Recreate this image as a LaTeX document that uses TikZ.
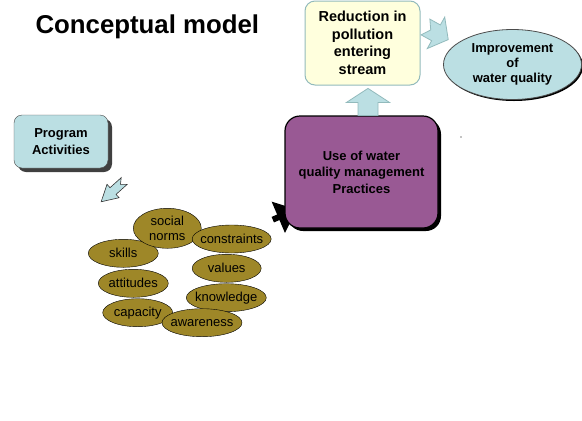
\documentclass[tikz,border=0pt]{standalone}
\usepackage{fontspec}
\setmainfont{Liberation Sans}
\usepackage{tikz}
\usetikzlibrary{shapes.geometric, shadows, calc}

\definecolor{paleblue}{RGB}{187,223,227}
\definecolor{oliveyellow}{RGB}{158,135,40}
\definecolor{plum}{RGB}{153,89,148}
\definecolor{cream}{RGB}{255,255,221}
\definecolor{tealgray}{RGB}{146,186,188}

\begin{document}
\begin{tikzpicture}[x=1pt, y=-1pt]
	\tikzstyle{box}=[rectangle, align=center,
		font=\bfseries\fontsize{13}{16.5}\selectfont]
	\tikzstyle{trait}=[ellipse, draw=black, fill=oliveyellow, inner xsep=-25pt,
		inner ysep=0pt, minimum width=70pt, minimum height=28pt, align=center,
		font=\fontsize{13}{15}\selectfont]
	\tikzstyle{blockarrow}=[fill=paleblue, draw=tealgray, line width=0.8pt]

	\useasboundingbox (0,0) rectangle (582,421);

	\node[anchor=base west, font=\bfseries\fontsize{25.8}{30}\selectfont] (title)
		at (32,33) {Conceptual model};

	\node[box, draw=black!70, fill=paleblue, rounded corners=8pt,
		minimum width=94pt, minimum height=53pt,
		drop shadow={shadow xshift=4pt, shadow yshift=-4pt, fill=black!75,
		opacity=1}] (prog) at (61,141.5) {Program\\Activities};

	% things the program acts on
	\node[trait] (skills) at (123.3,253.3) {skills};
	\node[trait, minimum width=68pt, minimum height=40pt] (norms)
		at (167.3,228.3) {social\\norms};
	\node[trait, minimum width=79pt] (constraints) at (231.7,239) {constraints};
	\node[trait, minimum width=69pt] (values) at (226.7,268.3) {values};
	\node[trait] (attitudes) at (133.3,283.3) {attitudes};
	\node[trait, minimum width=80pt] (knowledge) at (226.3,297.7) {knowledge};
	\node[trait] (capacity) at (137.7,312.7) {capacity};
	\node[trait, minimum width=80pt] (awareness) at (202,322.7) {awareness};

	\coordinate (tailA) at ($(prog.east)+(16,39.5)$);
	\begin{scope}[shift={(tailA)}, rotate=222]
		\draw[fill=paleblue, draw=black!80, line width=0.6pt]
		(0,4.5) -- (15,4.5) -- (15,9) -- (31,0) -- (15,-9) -- (15,-4.5) --
		(0,-4.5) -- (5,0) -- cycle;
	\end{scope}

	\coordinate (headC) at (278.3,217.3);
	\begin{scope}[shift={(headC)}, rotate=23]
		\fill[black] (20,0) -- (0,17) -- (0,3) -- (-6,3) -- (-6,-3) -- (0,-3) --
		(0,-17) -- cycle;
	\end{scope}

	\node[box, draw=black, line width=1.2pt, fill=plum, rounded corners=15pt,
		minimum width=153pt, minimum height=112pt,
		drop shadow={shadow xshift=3pt, shadow yshift=-3pt, fill=black,
		opacity=1}] (use) at (361.5,172)
		{Use of water\\quality management\\Practices};

	\node[box, draw=tealgray, line width=1pt, fill=cream, rounded corners=10pt,
		minimum width=115pt, minimum height=84pt,
		font=\bfseries\fontsize{14.5}{17.5}\selectfont] (reduce) at (362.5,43)
		{Reduction in\\pollution\\entering\\stream};

	\node[ellipse, draw=black!70, line width=0.8pt, fill=paleblue,
		minimum width=138pt, minimum height=70pt, inner sep=0pt, align=center,
		font=\bfseries\fontsize{13}{15.3}\selectfont,
		drop shadow={shadow xshift=1.5pt, shadow yshift=-1.5pt, fill=black,
		opacity=1}] (improve) at (512.5,64.5) {Improvement\\of\\water quality};

	\coordinate (upbase) at ($(use.north)+(6.5,0)$);
	\draw[blockarrow] (upbase) +(-10,0) -- +(-10,-13) -- +(-21.5,-13) --
		+(0,-27) -- +(21.5,-13) -- +(10,-13) -- +(10,0) -- cycle;

	\coordinate (tailB) at ($(reduce.east)+(5,-16)$);
	\begin{scope}[shift={(tailB)}, rotate=-29]
		\draw[blockarrow] (0,9) -- (12,9) -- (12,18) -- (26,0) -- (12,-18) --
		(12,-9) -- (0,-9) -- (6,0) -- cycle;
	\end{scope}

	\fill (461,137) circle (0.6);
\end{tikzpicture}
\end{document}
